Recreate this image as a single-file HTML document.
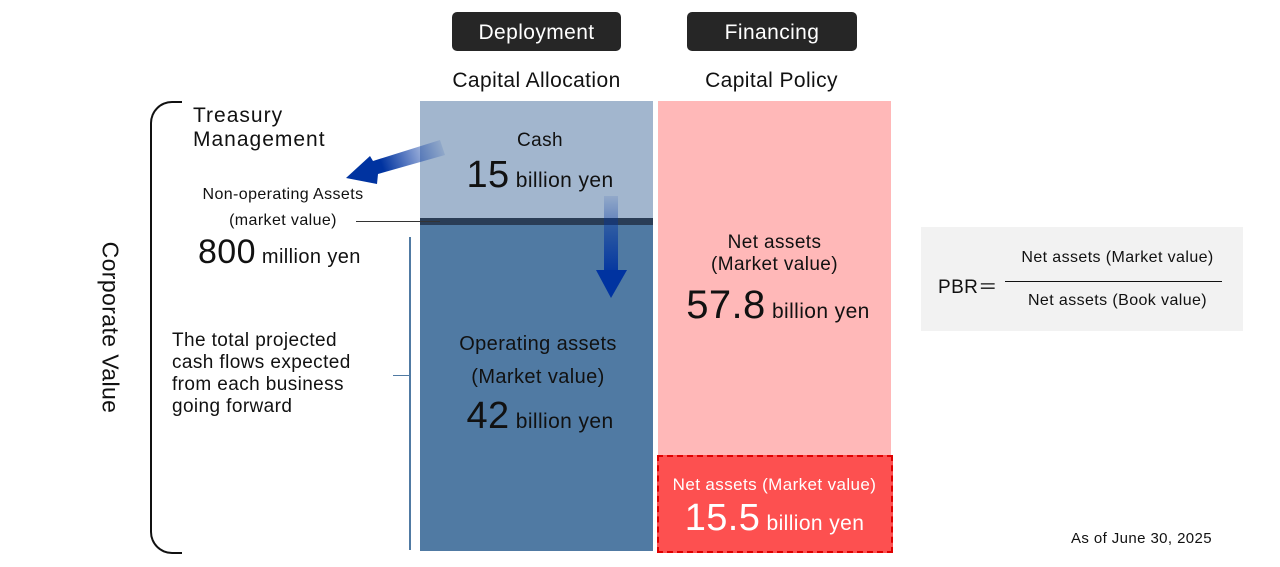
<!DOCTYPE html>
<html><head><style>
body{margin:0;width:1280px;height:567px;background:#fff;position:relative;overflow:hidden;font-family:"Liberation Sans",sans-serif;color:#111;letter-spacing:0.4px}
.a{position:absolute;white-space:nowrap}
.tag{position:absolute;background:#262626;color:#fff;border-radius:5px;font-size:21px;text-align:center;line-height:41px;top:12px;height:39px}
.c{text-align:center}
</style></head><body>
<div class="tag" style="left:452px;width:169px">Deployment</div>
<div class="tag" style="left:687px;width:170px">Financing</div>
<div class="a c" style="left:420px;width:233px;top:69px;font-size:21px">Capital Allocation</div>
<div class="a c" style="left:655px;width:233px;top:69px;font-size:21px">Capital Policy</div>

<div class="a" style="left:420px;top:101px;width:233px;height:117px;background:#a2b6ce"></div>
<div class="a" style="left:420px;top:218px;width:233px;height:7px;background:#2a3d56"></div>
<div class="a" style="left:420px;top:225px;width:233px;height:326px;background:#507aa3"></div>
<div class="a" style="left:658px;top:101px;width:233px;height:354px;background:#ffb8b8"></div>
<div class="a" style="left:657px;top:455px;width:232px;height:94px;background:#fd5050;border:2px dashed #e00000"></div>

<div class="a c" style="left:420px;width:240px;top:130px;font-size:19px">Cash</div>
<div class="a c" style="left:420px;width:240px;top:154px;font-size:21px"><span style="font-size:38px">15</span> billion yen</div>
<div class="a c" style="left:420px;width:236px;top:333px;font-size:20px">Operating assets</div>
<div class="a c" style="left:420px;width:236px;top:366px;font-size:20px">(Market value)</div>
<div class="a c" style="left:420px;width:240px;top:395px;font-size:21px"><span style="font-size:38px">42</span> billion yen</div>

<div class="a c" style="left:658px;width:233px;top:232px;font-size:19px">Net assets<br>(Market value)</div>
<div class="a c" style="left:658px;width:240px;top:283px;font-size:21px"><span style="font-size:40px">57.8</span> billion yen</div>
<div class="a c" style="left:658px;width:233px;top:475px;font-size:17px;color:#fff">Net assets (Market value)</div>
<div class="a c" style="left:658px;width:233px;top:497px;font-size:21px;color:#fff"><span style="font-size:38px">15.5</span> billion yen</div>

<div class="a" style="left:150px;top:101px;width:30px;height:449px;border:2px solid #111;border-right:none;border-radius:22px 0 0 22px"></div>
<div class="a" style="left:-10px;top:314px;width:240px;text-align:center;font-size:23px;transform:rotate(90deg)">Corporate Value</div>

<div class="a" style="left:193px;top:104px;font-size:21px;line-height:24px;letter-spacing:1px">Treasury<br>Management</div>
<div class="a c" style="left:183px;width:200px;top:186px;font-size:16px">Non-operating Assets</div>
<div class="a c" style="left:183px;width:200px;top:212px;font-size:16px">(market value)</div>
<div class="a" style="left:356px;top:221px;width:84px;height:1px;background:#333"></div>
<div class="a" style="left:198px;top:233px;font-size:20px"><span style="font-size:34px">800</span> million yen</div>

<div class="a" style="left:409px;top:237px;width:2px;height:313px;background:#507aa3"></div>
<div class="a" style="left:393px;top:375px;width:17px;height:1px;background:#507aa3"></div>
<div class="a" style="left:172px;top:330px;font-size:19px;line-height:22px">The total projected<br>cash flows expected<br>from each business<br>going forward</div>

<svg class="a" style="left:0;top:0" width="1280" height="567">
<defs>
<linearGradient id="g1" x1="443" y1="147" x2="350" y2="178" gradientUnits="userSpaceOnUse"><stop offset="0" stop-color="#0033a0" stop-opacity="0.1"/><stop offset="0.65" stop-color="#0033a0"/></linearGradient>
<linearGradient id="g2" x1="0" y1="196" x2="0" y2="298" gradientUnits="userSpaceOnUse"><stop offset="0" stop-color="#0033a0" stop-opacity="0.1"/><stop offset="0.8" stop-color="#0033a0"/></linearGradient>
</defs>
<polygon points="440,140 445,155 378,174 377,184 346,178 370,156 373,161" fill="url(#g1)"/>
<rect x="604" y="196" width="14" height="74" fill="url(#g2)"/>
<polygon points="596,270 627,270 611,298" fill="#0033a0"/>
</svg>

<div class="a" style="left:921px;top:227px;width:322px;height:104px;background:#f2f2f2"></div>
<div class="a" style="left:938px;top:272px;font-size:19px">PBR＝</div>
<div class="a" style="left:1005px;top:281px;width:217px;height:1px;background:#111"></div>
<div class="a c" style="left:1005px;width:225px;top:249px;font-size:16px">Net assets (Market value)</div>
<div class="a c" style="left:1005px;width:225px;top:292px;font-size:16px">Net assets (Book value)</div>
<div class="a" style="left:1071px;top:530px;font-size:15px">As of June 30, 2025</div>
</body></html>
